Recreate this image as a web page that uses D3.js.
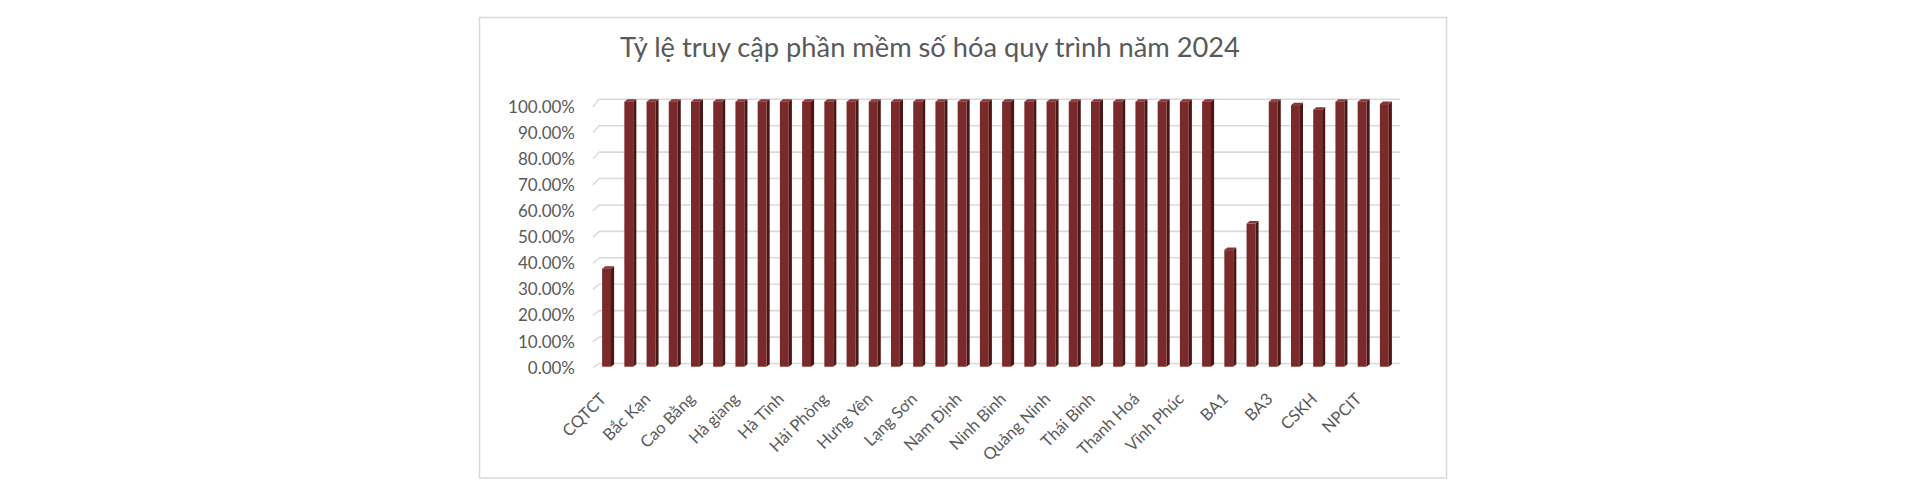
<!DOCTYPE html>
<html>
<head>
<meta charset="utf-8">
<script src="https://cdn.jsdelivr.net/npm/d3@7"></script>
<style>
html,body{margin:0;padding:0;background:#fff;}
svg{display:block;}
text{font-family:Lato,"Open Sans",sans-serif;}
</style>
</head>
<body>
<svg id="chart" width="1920" height="486"></svg>
<script>
// ---- data ----
const titleText = "Tỷ lệ truy cập phần mềm số hóa quy trình năm 2024";
const categories = ["CQTCT","Bắc Giang","Bắc Kạn","Bắc Ninh","Cao Bằng","Điện Biên","Hà giang","Hà Nam","Hà Tĩnh","Hải Dương","Hải Phòng","Hoà Bình","Hưng Yên","Lai Châu","Lạng Sơn","Lào Cai","Nam Định","Nghệ An","Ninh Bình","Phú Thọ","Quảng Ninh","Sơn La","Thái Bình","Thái Nguyên","Thanh Hoá","Tuyên Quang","Vĩnh Phúc","Yên Bái","BA1","BA2","BA3","BA4","CSKH","NPCETC","NPCIT","NPCPSC"];
const values = [0.37,1,1,1,1,1,1,1,1,1,1,1,1,1,1,1,1,1,1,1,1,1,1,1,1,1,1,1,0.44,0.54,1,0.987,0.97,1,1,0.991];
const yTicks = [0,0.1,0.2,0.3,0.4,0.5,0.6,0.7,0.8,0.9,1.0];
const shownLabels = categories.filter((d,i)=>i%2===0);

// ---- layout ----
const svg = d3.select("#chart");
const textColor = "#595959";
const gridColor = "#d9d9d9";

svg.append("rect").attr("x",479.5).attr("y",17.5).attr("width",967).attr("height",460.5)
  .attr("fill","#fff").attr("stroke",gridColor).attr("stroke-width",1.5);

const x = d3.scaleBand().domain(categories).range([597,1397]).paddingInner(0.46).paddingOuter(0.23);
const yGrid = d3.scaleLinear().domain([0,1]).range([363.5,99.3]);
const yFront = d3.scaleLinear().domain([0,1]).range([367.7,106.7]);
const yBar = d3.scaleLinear().domain([0,1]).range([366.7,101.7]);

// gridlines on back wall
svg.append("g").selectAll("line").data(yTicks).join("line")
  .attr("x1",599).attr("x2",1400)
  .attr("y1",d=>yGrid(d)).attr("y2",d=>yGrid(d))
  .attr("stroke",gridColor).attr("stroke-width",1.6);
// slanted wall ticks
svg.append("g").selectAll("line").data(yTicks).join("line")
  .attr("x1",593).attr("x2",599)
  .attr("y1",d=>yFront(d)).attr("y2",d=>yGrid(d))
  .attr("stroke",gridColor).attr("stroke-width",1.4);

// y axis labels
const yAxis = svg.append("g").attr("transform","translate(577,0)")
  .call(d3.axisLeft(yFront).tickValues(yTicks).tickFormat(d3.format(".2%")).tickSize(0).tickPadding(2));
yAxis.select(".domain").remove();
yAxis.selectAll("text").attr("fill",textColor).style("font-size","17px").style("font-family","Lato");

// bars (pseudo 3D)
const bw = x.bandwidth();
const fw = bw*0.74, dx = bw-fw, dy = 2.5;
const bars = svg.append("g").selectAll("g").data(categories).join("g");
bars.append("path") // side
  .attr("d",(d,i)=>{const x0=x(d)+fw, yt=yBar(values[i]), yb=yBar(0);
     return `M${x0},${yt}L${x0+dx},${yt-dy}L${x0+dx},${yb-dy}L${x0},${yb}Z`;})
  .attr("fill","#4a1717");
bars.append("path") // top
  .attr("d",(d,i)=>{const x0=x(d), yt=yBar(values[i]);
     return `M${x0},${yt}L${x0+dx},${yt-dy}L${x0+fw+dx},${yt-dy}L${x0+fw},${yt}Z`;})
  .attr("fill","#8a3535");
bars.append("rect") // front
  .attr("x",d=>x(d)).attr("width",fw)
  .attr("y",(d,i)=>yBar(values[i])).attr("height",(d,i)=>yBar(0)-yBar(values[i]))
  .attr("fill","#7a2a2a");

// x axis labels
const xAxis = svg.append("g").attr("transform","translate(0,400)")
  .call(d3.axisBottom(x).tickValues(shownLabels).tickSize(0).tickPadding(0));
xAxis.select(".domain").remove();
xAxis.selectAll(".tick text")
  .attr("fill",textColor).style("font-size","16.5px").style("font-family","Lato")
  .attr("text-anchor","end").attr("y",0).attr("dy","0")
  .attr("transform","translate(-1,0) rotate(-45)");

// title
const title = svg.append("text").text(titleText)
  .attr("x",930).attr("y",57).attr("text-anchor","middle")
  .attr("fill",textColor).style("font-size","26px");
const tl = title.node().getComputedTextLength();
title.style("font-size",(26*620/tl).toFixed(2)+"px");
</script>
</body>
</html>
